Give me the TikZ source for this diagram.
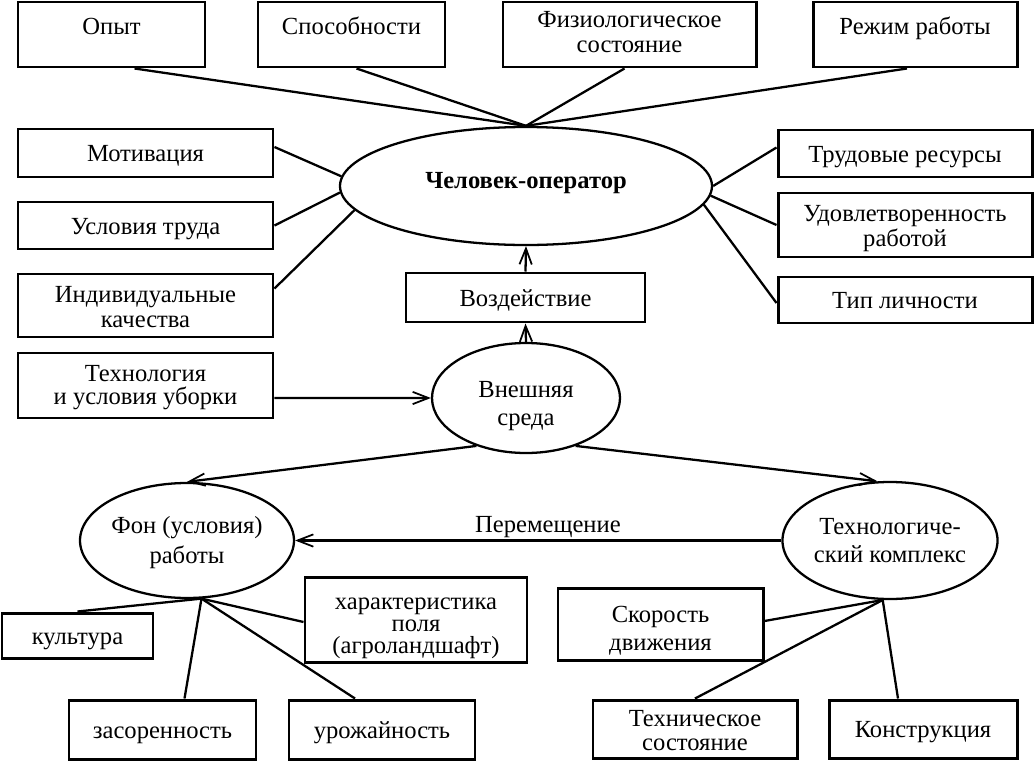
\documentclass[tikz,border=0pt]{standalone}
\usepackage{fontspec}
\setmainfont{Liberation Serif}
\usetikzlibrary{calc,shapes.geometric,arrows.meta}
\newcommand{\topstrut}{\rule{0pt}{13.2pt}}
\newcommand{\botstrut}{\rule[-3pt]{0pt}{3pt}}
\newcommand{\mytop}[1][0pt]{\rule{0pt}{\dimexpr13.2pt+#1\relax}}
\newcommand{\mybot}{\rule[-3pt]{0pt}{3pt}}
\begin{document}
\begin{tikzpicture}[x=0.02cm,y=-0.02cm,
  font=\fontsize{14}{14.2}\selectfont,
  wh/.style 2 args={minimum width=#1*0.02cm, minimum height=#2*0.02cm},
  box/.style={draw,line width=1.7pt,align=center,inner sep=0pt,
    execute at begin node=\topstrut, execute at end node=\botstrut},
  oval/.style={draw,ellipse,line width=1.3pt,align=center,inner sep=0pt,
    execute at begin node=\topstrut, execute at end node=\botstrut},
  raised/.style={text height=9.5pt,text depth=9.5pt},
  conn/.style={line width=1.3pt},
  arr/.style={line width=1.3pt,-{Straight Barb[length=9pt,width=7pt,line width=1pt]}}]
\useasboundingbox (0,0) rectangle (1035,761);

% top row
\node[box,raised,wh={187}{65}] (opyt) at (111.5,34.5) {Опыт};
\node[box,raised,wh={187}{65}] (spos) at (351.5,34.5) {Способности};
\node[box,wh={253}{65},font=\fontsize{14}{14.7}\selectfont] (fiz) at (629.5,34.5) {\mytop[-4pt]Физиологическое\\состояние\mybot};
\node[box,raised,wh={204}{65}] (rezh) at (915,34.5) {Режим работы};

% central ellipse
\node[oval,wh={372}{118},text height=8pt,text depth=4.7pt,font=\fontsize{14}{14}\selectfont\bfseries] (chel) at (526,186) {Человек-оператор};

% left column
\node[box,wh={255}{48}] (mot) at (145.5,153) {Мотивация};
\node[box,wh={255}{47}] (usl) at (145.5,225.5) {Условия труда};
\node[box,wh={255}{63}] (ind) at (145.5,305.5) {\mytop[1.1pt]Индивидуальные\\качества\mybot};
\node[box,wh={255}{65},font=\fontsize{14}{13.3}\selectfont] (tech) at (145.5,385.5) {\mytop[-2pt]Технология\\и условия уборки\mybot};

% right column
\node[box,wh={254}{47}] (trud) at (905,153.5) {Трудовые ресурсы};
\node[box,wh={254}{64}] (udov) at (905,225) {\mytop[0pt]Удовлетворенность\\работой\mybot};
\node[box,wh={254}{46}] (tip) at (905,300) {Тип личности};

% middle
\node[box,wh={239}{49}] (vozd) at (525.5,297.5) {Воздействие};
\node[oval,wh={188}{110},font=\fontsize{14}{15.9}\selectfont] (vnesh) at (526,398) {\mytop[5.5pt]Внешняя\\среда\mybot};

% lower ellipses
\node[oval,wh={202}{115},font=\fontsize{14}{17.5}\selectfont] (fon) at (187,540.5) {\mytop[-1.1pt]Фон (условия)\\работы\mybot};
\node[oval,wh={205}{117},font=\fontsize{14}{16.3}\selectfont] (tekh) at (890,540.5) {\mytop[-1.1pt]Технологиче-\\ский комплекс\mybot};

% bottom boxes
\node[box,wh={151}{45}] (kult) at (77.5,635.5) {культура};
\node[box,wh={222}{85},font=\fontsize{14}{12.5}\selectfont] (khar) at (416,619.5) {\mytop[3.9pt]характеристика\\поля\\(агроландшафт)\mybot};
\node[box,wh={187}{59}] (zas) at (162.5,729.5) {засоренность};
\node[box,wh={186}{59}] (urozh) at (382,729.5) {урожайность};
\node[box,wh={205}{72},font=\fontsize{14}{15.9}\selectfont] (skor) at (660.5,624) {\mytop[4.5pt]Скорость\\движения\mybot};
\node[box,wh={204}{58},font=\fontsize{14}{13.4}\selectfont] (tsost) at (695,729) {\mytop[0.6pt]Техническое\\состояние\mybot};
\node[box,wh={188}{58}] (konstr) at (923,729) {Конструкция};

% connectors to top
\draw[conn] ($(opyt.south)+(23,0)$) -- (chel.north);
\draw[conn] ($(spos.south)+(5,0)$) -- (chel.north);
\draw[conn] ($(fiz.south)+(-5,0)$) -- (chel.north);
\draw[conn] ($(rezh.south)+(-8,0)$) -- (chel.north);

% left connectors
\draw[conn] ($(mot.east)+(0,-6)$) -- (chel.177);
\draw[conn] (usl.east) -- (chel.182);
\draw[conn] ($(ind.east)+(0,-17)$) -- (chel.188);

% right connectors
\draw[conn] ($(trud.west)+(0,-6)$) -- (chel.east);
\draw[conn] (udov.west) -- (chel.357);
\draw[conn] ($(tip.west)+(0,3)$) -- (chel.354);

% arrows
\draw[arr] (vozd.north) -- (chel.south);
\draw[arr] (vnesh.north) -- (vozd.south);
\draw[arr] ($(tech.east)+(0,12.5)$) -- (vnesh.west);
\draw[arr] (vnesh.224) -- (fon.north);
\draw[arr] (vnesh.316) -- (tekh.102);
\draw[arr] (tekh.west) -- node[above,pos=0.48,inner sep=0pt,yshift=4pt,text depth=0pt] (perlabel) {Перемещение} (fon.east);

% Fon children
\draw[conn] (fon.284) -- (kult.north);
\draw[conn] (fon.284) -- ($(khar.west)+(0,2.5)$);
\draw[conn] (fon.284) -- ($(zas.north)+(22,0)$);
\draw[conn] (fon.284) -- ($(urozh.north)+(-27,0)$);

% Tekh children
\draw[conn] (tekh.263) -- ($(skor.east)+(0,-3)$);
\draw[conn] (tekh.263) -- (tsost.north);
\draw[conn] (tekh.263) -- ($(konstr.north)+(-25,0)$);
\end{tikzpicture}
\end{document}
